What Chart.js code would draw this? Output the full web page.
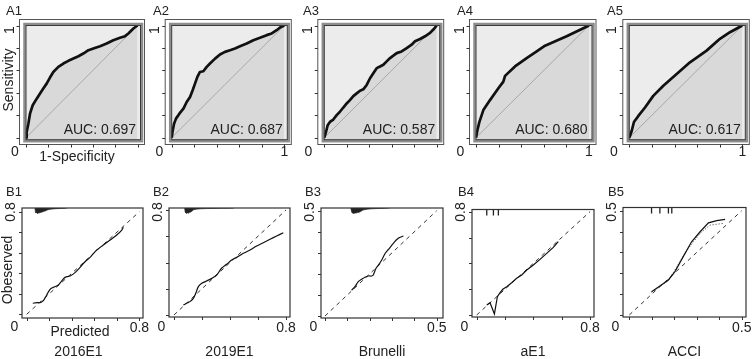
<!DOCTYPE html>
<html><head><meta charset="utf-8">
<script src="https://cdn.jsdelivr.net/npm/chart.js@4.4.0/dist/chart.umd.min.js"></script>
<style>
html,body{margin:0;padding:0;background:#fff;width:752px;height:359px;overflow:hidden}
canvas{position:absolute;left:0;top:0}
</style></head><body>
<script>
// ---------------- DATA ----------------
const rocLabels = ['A1','A2','A3','A4','A5'];
const aucTexts = ['AUC: 0.697','AUC: 0.687','AUC: 0.587','AUC: 0.680','AUC: 0.617'];
const rocTicks = [0,0.2,0.4,0.6,0.8,1];

const rocA1X = [0,0.006,0.021,0.036,0.06,0.096,0.126,0.155,0.185,0.215,0.245,0.29,0.335,0.38,0.425,0.47,0.514,0.56,0.604,0.664,0.723,0.783,0.843,0.888,0.918,0.963,1];
const rocA1Y = [0,0.05,0.125,0.214,0.289,0.348,0.393,0.438,0.482,0.536,0.586,0.631,0.661,0.685,0.705,0.726,0.75,0.78,0.795,0.815,0.839,0.869,0.89,0.905,0.929,0.973,1];
const rocA2X = [0,0.009,0.021,0.038,0.068,0.104,0.133,0.163,0.186,0.207,0.228,0.251,0.281,0.311,0.34,0.385,0.429,0.473,0.518,0.562,0.607,0.666,0.725,0.784,0.843,0.888,0.932,0.962,1];
const rocA2Y = [0,0.065,0.125,0.17,0.214,0.259,0.318,0.363,0.423,0.482,0.542,0.586,0.592,0.631,0.661,0.705,0.741,0.765,0.78,0.795,0.815,0.839,0.869,0.89,0.914,0.929,0.958,0.982,1];
const rocA3X = [0,0.015,0.03,0.05,0.08,0.11,0.139,0.169,0.199,0.228,0.258,0.288,0.318,0.347,0.377,0.407,0.436,0.466,0.496,0.525,0.555,0.585,0.614,0.644,0.688,0.733,0.777,0.807,0.852,0.896,0.941,0.97,1];
const rocA3Y = [0,0.051,0.111,0.141,0.162,0.201,0.231,0.269,0.305,0.335,0.371,0.395,0.419,0.431,0.47,0.53,0.575,0.62,0.635,0.65,0.68,0.71,0.731,0.754,0.769,0.799,0.829,0.859,0.88,0.904,0.934,0.964,1];
const rocA4X = [0,0.012,0.03,0.065,0.124,0.198,0.242,0.257,0.345,0.448,0.537,0.611,0.802,1];
const rocA4Y = [0,0.066,0.141,0.246,0.335,0.44,0.5,0.551,0.635,0.71,0.769,0.82,0.904,1];
const rocA5X = [0,0.021,0.041,0.08,0.139,0.212,0.301,0.419,0.537,0.684,0.802,0.891,1];
const rocA5Y = [0,0.06,0.14,0.194,0.269,0.373,0.463,0.567,0.672,0.776,0.881,0.94,1];

const calLabels = ['B1','B2','B3','B4','B5'];
const groupNames = ['2016E1','2019E1','Brunelli','aE1','ACCI'];
const calMax = [0.8,0.8,0.5,0.8,0.5];
const calMaxLabels = ['0.8','0.8','0.5','0.8','0.5'];
const calTickCount = [6,5,6,5,6];

const calB1X = [0.043,0.071,0.095,0.118,0.142,0.166,0.189,0.225,0.249,0.272,0.308,0.343,0.379,0.414,0.45,0.497,0.544,0.592,0.639,0.675,0.686];
const calB1Y = [0.086,0.091,0.091,0.106,0.151,0.195,0.21,0.229,0.26,0.288,0.299,0.325,0.366,0.41,0.444,0.501,0.54,0.579,0.618,0.657,0.678];
const calB2X = [0.067,0.09,0.114,0.138,0.157,0.174,0.198,0.233,0.269,0.305,0.34,0.376,0.412,0.448,0.495,0.543,0.59,0.638,0.686,0.733,0.781];
const calB2Y = [0.076,0.089,0.102,0.127,0.17,0.216,0.241,0.259,0.279,0.305,0.356,0.386,0.419,0.439,0.47,0.495,0.526,0.551,0.577,0.602,0.627];
const calB3X = [0.119,0.134,0.149,0.164,0.179,0.194,0.209,0.216,0.228,0.239,0.254,0.269,0.284,0.306,0.328,0.351];
const calB3Y = [0.123,0.139,0.163,0.174,0.184,0.19,0.19,0.195,0.226,0.242,0.266,0.297,0.316,0.345,0.369,0.38];
const calB4X = [0.071,0.094,0.125,0.146,0.165,0.184,0.212,0.247,0.282,0.318,0.353,0.4,0.447,0.494,0.541,0.576];
const calB4Y = [0.077,0.095,0.008,0.142,0.173,0.199,0.219,0.25,0.284,0.31,0.348,0.387,0.431,0.477,0.524,0.568];
const calB5X = [0.099,0.136,0.174,0.203,0.24,0.277,0.315,0.352,0.389,0.426];
const calB5Y = [0.112,0.139,0.168,0.208,0.28,0.351,0.399,0.442,0.452,0.458];
const appB5X = [0.099,0.174,0.203,0.248,0.277,0.315,0.359,0.418];
const appB5Y = [0.109,0.165,0.216,0.296,0.34,0.391,0.431,0.439];

// distribution of predictions drawn at the top edge (relative counts)
const histB1X = [0.058,0.062,0.066,0.07,0.075,0.08,0.085,0.09,0.095,0.1,0.11,0.12,0.13,0.14,0.15,0.17,0.19,0.21,0.24,0.27,0.29];
const histB1N = [0,38,50,46,55,52,48,50,44,45,40,35,30,25,18,12,9,7,5,3,0];
const histB2X = [0.075,0.08,0.085,0.09,0.095,0.1,0.105,0.11,0.12,0.13,0.14,0.16,0.19,0.23,0.28,0.34,0.4,0.43];
const histB2N = [0,42,50,55,48,52,45,45,40,30,18,12,8,6,4,3,2,0];
const histB3X = [0.115,0.12,0.125,0.13,0.135,0.14,0.145,0.15,0.16,0.17,0.19,0.21,0.24,0.27,0.29];
const histB3N = [0,45,52,55,50,50,46,45,35,20,12,8,5,3,0];
const rugB4X = [0.071,0.118,0.153];
const rugB5X = [0.099,0.136,0.174,0.189];

// ---------------- LAYOUT ----------------
const W = 752, H = 359;
const FONT = '"Liberation Sans", Arial, Helvetica, sans-serif';
const INK = '#222';
const rocPos = [
  {x0:26,    x1:137.5, lab:6,   zero:15,    one:false, rot:10},
  {x0:171.7, x1:284.3, lab:153, zero:159.5, one:true,  rot:155},
  {x0:324.3, x1:436.7, lab:303, zero:308.5, one:false, rot:308.5},
  {x0:476,   x1:589,   lab:457, zero:460.5, one:true,  rot:460.5},
  {x0:629.3, x1:742.3, lab:607, zero:614,   one:true,  rot:612}
];
const ROC_Y0 = 137.7, ROC_Y1 = 25.5;
const calPos = [
  {L:22,  R:143, T:208,   B:318, x0:26.7,  xm:139.4, y0:314.3, ym:211.7, lab:6},
  {L:169, R:290, T:208,   B:317, x0:174,   xm:286,   y0:315,   ym:210,   lab:153},
  {L:321, R:443, T:208,   B:318, x0:325,   xm:436.7, y0:316,   ym:210.7, lab:305},
  {L:472, R:594, T:209.5, B:317, x0:476.7, xm:590,   y0:315,   ym:211.7, lab:458},
  {L:623, R:746, T:207.5, B:317, x0:629.3, xm:741.7, y0:315,   ym:210.7, lab:608}
];

function pts(xs, ys){ return xs.map((x,i)=>({x:x, y:ys[i]})); }
function txt(ctx, s, x, y, o){
  o = o || {};
  ctx.save();
  ctx.font = (o.size||14) + 'px ' + FONT;
  ctx.fillStyle = INK;
  ctx.textAlign = o.align || 'center';
  ctx.textBaseline = 'middle';
  ctx.translate(x, y);
  if (o.rot) ctx.rotate(-Math.PI/2);
  ctx.fillText(s, 0, 0);
  ctx.restore();
}
function newCanvas(){
  const c = document.createElement('canvas');
  c.width = W; c.height = H;
  document.body.appendChild(c);
  return c;
}
const baseOpts = (pad, xmin, xmax, ymin, ymax) => ({
  responsive:false, animation:false, events:[], devicePixelRatio:1,
  layout:{padding:pad},
  scales:{
    x:{type:'linear', display:false, min:xmin, max:xmax},
    y:{type:'linear', display:false, min:ymin, max:ymax}
  },
  plugins:{legend:{display:false}, tooltip:{enabled:false}, title:{display:false},
           filler:{drawTime:'beforeDatasetsDraw'}}
});

// ---------------- ROC PANELS ----------------
const rocSeries = [[rocA1X,rocA1Y],[rocA2X,rocA2Y],[rocA3X,rocA3Y],[rocA4X,rocA4Y],[rocA5X,rocA5Y]];
rocSeries.forEach((s, i) => {
  const p = rocPos[i];
  const aL = p.x0 - 1.5, aR = p.x1 + 4.5, aT = 24, aB = 141.2;
  const ux = p.x1 - p.x0, uy = ROC_Y0 - ROC_Y1;
  const xmin = -(p.x0 - aL)/ux, xmax = 1 + (aR - p.x1)/ux;
  const ymin = -(aB - ROC_Y0)/uy, ymax = 1 + (ROC_Y1 - aT)/uy;
  const deco = {
    id:'rocDeco'+i,
    beforeDraw(chart){
      const a = chart.chartArea, ctx = chart.ctx;
      ctx.save(); ctx.fillStyle = '#ececec';
      ctx.fillRect(a.left, a.top, a.right-a.left, a.bottom-a.top); ctx.restore();
    },
    afterDatasetsDraw(chart){
      const a = chart.chartArea, ctx = chart.ctx;
      ctx.save();
      ctx.strokeStyle = '#8d8d8d'; ctx.lineWidth = 2.5;
      ctx.strokeRect(a.left, a.top, a.right-a.left, a.bottom-a.top);
      ctx.strokeStyle = '#3a3a3a'; ctx.lineWidth = 1;
      ctx.strokeRect(a.left+1.5, a.top+1.5, a.right-a.left-3, a.bottom-a.top-3);
      // outer box
      const oL = a.left - 5, oT = 19.5, oR = a.right + 2.5, oB = 144.5;
      ctx.strokeStyle = '#555'; ctx.lineWidth = 1;
      ctx.strokeRect(oL, oT, oR-oL, oB-oT);
      // ticks
      const xs = chart.scales.x, ys = chart.scales.y;
      ctx.strokeStyle = '#333';
      rocTicks.forEach(v => {
        const px = Math.round(xs.getPixelForValue(v)) + 0.5;
        ctx.beginPath(); ctx.moveTo(px, oB); ctx.lineTo(px, oB+3); ctx.stroke();
        const py = Math.round(ys.getPixelForValue(v)) + 0.5;
        ctx.beginPath(); ctx.moveTo(oL, py); ctx.lineTo(oL-3, py); ctx.stroke();
      });
      ctx.restore();
    },
    afterDraw(chart){
      const ctx = chart.ctx, xs = chart.scales.x;
      txt(ctx, rocLabels[i], p.lab, 11.5, {size:13, align:'left'});
      txt(ctx, '1', p.rot, 30, {rot:true});
      txt(ctx, '0', p.zero, 152);
      if (p.one) txt(ctx, '1', xs.getPixelForValue(1), 152);
      txt(ctx, aucTexts[i], xs.getPixelForValue(1) - 1.5, 130, {align:'right'});
      if (i === 0){
        txt(ctx, 'Sensitivity', 9, 80, {rot:true});
        txt(ctx, '1-Specificity', 77, 157.5);
      }
    }
  };
  new Chart(newCanvas(), {
    type:'line',
    data:{datasets:[
      {data:pts(s[0], s[1]), borderColor:'#111', borderWidth:2.7, pointRadius:0,
       fill:'start', backgroundColor:'#d9d9d9', tension:0, borderJoinStyle:'round'},
      {data:pts([0,1],[0,1]), borderColor:'#a8a8a8', borderWidth:1, pointRadius:0, fill:false}
    ]},
    options: baseOpts({left:aL, top:aT, right:W-aR, bottom:H-aB}, xmin, xmax, ymin, ymax),
    plugins:[deco]
  });
});

// ---------------- CALIBRATION PANELS ----------------
const calSeries = [[calB1X,calB1Y],[calB2X,calB2Y],[calB3X,calB3Y],[calB4X,calB4Y],[calB5X,calB5Y]];
const histSeries = [[histB1X,histB1N],[histB2X,histB2N],[histB3X,histB3N],null,null];
const rugSeries = [null,null,null,rugB4X,rugB5X];
calSeries.forEach((s, i) => {
  const p = calPos[i], M = calMax[i];
  const ux = (p.xm - p.x0)/M, uy = (p.y0 - p.ym)/M;
  const xmin = -(p.x0 - p.L)/ux, xmax = M + (p.R - p.xm)/ux;
  const ymin = -(p.B - p.y0)/uy, ymax = M + (p.ym - p.T)/uy;
  const perPx = 1/uy;
  const ds = [
    {data:pts(s[0], s[1]), borderColor:'#111', borderWidth:1.2, pointRadius:0, fill:false,
     tension:(i>=3?0:0.35)},
    {data:pts([0,M],[0,M]), borderColor:'#333', borderWidth:1, borderDash:[4,4], pointRadius:0, fill:false}
  ];
  if (i === 4) ds.push({data:pts(appB5X, appB5Y), borderColor:'#333', borderWidth:1, borderDash:[1,2],
                        pointRadius:0, fill:false, tension:0});
  const h = histSeries[i];
  if (h) ds.push({data:h[0].map((x,k)=>({x:x, y:ymax - h[1][k]*0.1*perPx})),
                  borderColor:'#222', borderWidth:0.6, pointRadius:0, fill:'end',
                  backgroundColor:'#222', tension:0});
  const r = rugSeries[i];
  if (r) ds.push({data:r.map(x=>({x:x, y:ymax - 3*perPx})), showLine:false, pointStyle:'line',
                  rotation:90, pointRadius:3, borderColor:'#222', borderWidth:1.3, fill:false});
  const deco = {
    id:'calDeco'+i,
    afterDatasetsDraw(chart){
      const a = chart.chartArea, ctx = chart.ctx;
      ctx.save();
      ctx.strokeStyle = '#333'; ctx.lineWidth = 1.2;
      ctx.strokeRect(a.left, a.top, a.right-a.left, a.bottom-a.top);
      const xs = chart.scales.x, ys = chart.scales.y, n = calTickCount[i];
      ctx.lineWidth = 1;
      for (let k = 0; k < n; k++){
        const v = M*k/(n-1);
        const px = Math.round(xs.getPixelForValue(v)) + 0.5;
        ctx.beginPath(); ctx.moveTo(px, a.bottom); ctx.lineTo(px, a.bottom+3); ctx.stroke();
        const py = Math.round(ys.getPixelForValue(v)) + 0.5;
        ctx.beginPath(); ctx.moveTo(a.left, py); ctx.lineTo(a.left-3, py); ctx.stroke();
      }
      ctx.restore();
    },
    afterDraw(chart){
      const ctx = chart.ctx, xs = chart.scales.x, a = chart.chartArea;
      txt(ctx, calLabels[i], p.lab, 192.5, {size:13, align:'left'});
      txt(ctx, calMaxLabels[i], p.L - 11, 212, {rot:true});
      txt(ctx, '0', p.L - 7.5, 327.5);
      txt(ctx, calMaxLabels[i], xs.getPixelForValue(M), 328);
      txt(ctx, groupNames[i], (a.left + a.right)/2 - (i===0?4:0), 352);
      if (i === 0){
        txt(ctx, 'Obeserved', 8.5, 270, {rot:true});
        txt(ctx, 'Predicted', 80, 332);
      }
    }
  };
  const opts = baseOpts({left:p.L, top:p.T, right:W-p.R, bottom:H-p.B}, xmin, xmax, ymin, ymax);
  opts.plugins.filler = {drawTime:'beforeDatasetDraw'};
  new Chart(newCanvas(), {type:'line', data:{datasets:ds}, options:opts, plugins:[deco]});
});
</script>
</body></html>
